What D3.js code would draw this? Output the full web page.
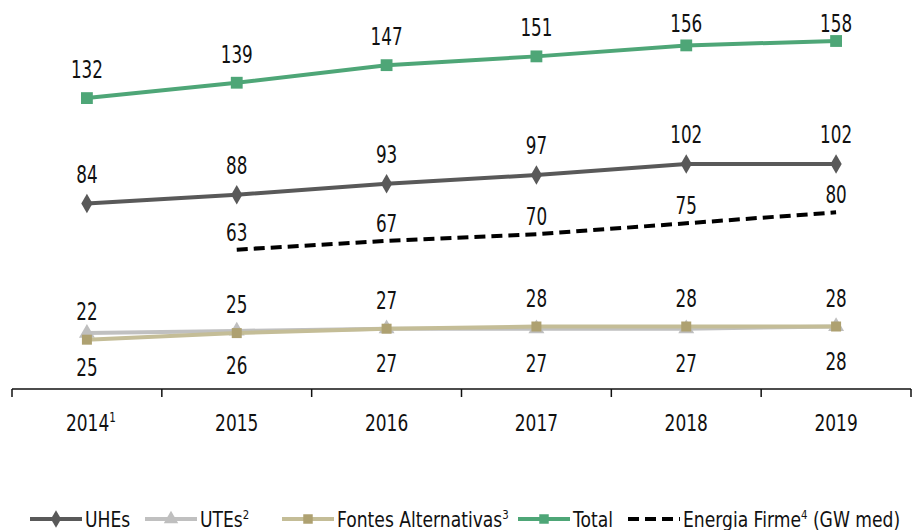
<!DOCTYPE html>
<html>
<head>
<meta charset="utf-8">
<script src="https://cdn.jsdelivr.net/npm/d3@7"></script>
<style>
  body { margin: 0; background: #fff; }
  svg text { font-family: "DejaVu Sans", sans-serif; fill: #111; }
</style>
</head>
<body>
<div id="chart"></div>
<script>
// Data
const years = ['2014', '2015', '2016', '2017', '2018', '2019'];
const yearNotes = ['1', '', '', '', '', ''];
const uhes = [84, 88, 93, 97, 102, 102];
const utes = [25, 26, 27, 27, 27, 28];
const fontes = [22, 25, 27, 28, 28, 28];
const total = [132, 139, 147, 151, 156, 158];
const energiaYears = ['2015', '2016', '2017', '2018', '2019'];
const energia = [63, 67, 70, 75, 80];

const W = 919, H = 530;
const SX = 0.7; // no narrow font installed, squeeze glyphs horizontally

const svg = d3.select('#chart')
  .append('svg')
  .attr('width', W)
  .attr('height', H);

const x = d3.scaleBand().domain(years).range([12, 911]);
const cx = (d) => x(d) + x.bandwidth() / 2;
const y = d3.scaleLinear().domain([0, 158]).range([388, 41]);

const at = (px, py, sx) => `translate(${px},${py}) scale(${sx || SX},1)`;

// x axis
const axis = svg.append('g')
  .attr('transform', 'translate(0,389)');
axis.append('line')
  .attr('x1', 12).attr('x2', 911)
  .attr('stroke', '#111').attr('stroke-width', 1.5);
axis.selectAll('line.tick')
  .data(d3.range(years.length + 1))
  .enter()
  .append('line')
  .attr('class', 'tick')
  .attr('x1', (i) => 12 + i * x.bandwidth())
  .attr('x2', (i) => 12 + i * x.bandwidth())
  .attr('y1', 0).attr('y2', 8)
  .attr('stroke', '#111').attr('stroke-width', 1.5);

const tl = axis.selectAll('text')
  .data(years)
  .enter()
  .append('text')
  .attr('transform', (d, i) => at(cx(d) + (yearNotes[i] ? 4 : 0), 42, 0.74))
  .attr('text-anchor', 'middle')
  .attr('font-size', 23);
tl.append('tspan').text((d) => d);
tl.append('tspan')
  .attr('font-size', 14)
  .attr('dy', -9)
  .text((d, i) => yearNotes[i]);

const series = [
  { name: 'UHEs', values: uhes, color: '#595959', marker: 'diamond', mcolor: '#595959', label: -21 },
  { name: 'UTEs', values: utes, color: '#C0C0C0', marker: 'triangle', mcolor: '#BFBFBF', label: 43 },
  { name: 'Fontes', values: fontes, color: '#C4BD97', marker: 'square', mcolor: '#AEA171', label: -20, msize: 100 },
  { name: 'Total', values: total, color: '#4EA677', marker: 'square', mcolor: '#4EA677', label: -20, msize: 140 },
];

const line = d3.line().x((d) => cx(d.year)).y((d) => y(d.value));

const symbolType = {
  diamond: d3.symbolDiamond,
  triangle: d3.symbolTriangle,
  square: d3.symbolSquare,
};

series.forEach((s) => {
  const pts = years.map((yr, i) => ({ year: yr, value: s.values[i] }));
  const g = svg.append('g');
  g.append('path')
    .datum(pts)
    .attr('d', line)
    .attr('fill', 'none')
    .attr('stroke', s.color)
    .attr('stroke-width', 4);
  g.selectAll('path.m')
    .data(pts)
    .enter()
    .append('path')
    .attr('class', 'm')
    .attr('d', d3.symbol().type(symbolType[s.marker]).size(s.msize || 110))
    .attr('transform', (d) => `translate(${cx(d.year)},${y(d.value)})`)
    .attr('fill', s.mcolor);
});

// Energia firme dashed
const ePts = energiaYears.map((yr, i) => ({ year: yr, value: energia[i] }));
svg.append('path')
  .datum(ePts)
  .attr('d', line)
  .attr('fill', 'none')
  .attr('stroke', '#000')
  .attr('stroke-width', 4)
  .attr('stroke-dasharray', '11,6');

// Data labels (kept inside the plot area at the top, like the original)
series.forEach((s) => {
  svg.append('g')
    .selectAll('text')
    .data(years)
    .enter()
    .append('text')
    .attr('transform', (d, i) => at(cx(d), Math.max(y(s.values[i]) + s.label, 32)))
    .attr('text-anchor', 'middle')
    .attr('font-size', 24)
    .text((d, i) => s.values[i]);
});
svg.append('g')
  .selectAll('text')
  .data(ePts)
  .enter()
  .append('text')
  .attr('transform', (d) => at(cx(d.year), y(d.value) - 9))
  .attr('text-anchor', 'middle')
  .attr('font-size', 24)
  .text((d) => d.value);

// Legend
const legendItems = [
  { x: 30, text: 'UHEs', sup: '', color: '#595959', marker: 'diamond', mcolor: '#595959' },
  { x: 145, text: 'UTEs', sup: '2', color: '#C0C0C0', marker: 'triangle', mcolor: '#BFBFBF' },
  { x: 282, text: 'Fontes Alternativas', sup: '3', color: '#C4BD97', marker: 'square', mcolor: '#AEA171' },
  { x: 518, text: 'Total', sup: '', color: '#4EA677', marker: 'square', mcolor: '#4EA677' },
  { x: 628, text: 'Energia Firme', sup: '4', tail: ' (GW med)', color: '#000', dash: true },
];

const lg = svg.append('g').attr('transform', 'translate(0,519)');
legendItems.forEach((it) => {
  lg.append('line')
    .attr('x1', it.x).attr('x2', it.x + 52)
    .attr('stroke', it.color)
    .attr('stroke-width', 4)
    .attr('stroke-dasharray', it.dash ? '11,6' : null);
  if (it.marker) {
    lg.append('path')
      .attr('d', d3.symbol().type(symbolType[it.marker]).size(90))
      .attr('transform', `translate(${it.x + 26},0)`)
      .attr('fill', it.mcolor);
  }
  const t = lg.append('text')
    .attr('transform', at(it.x + 55, 8, 0.78))
    .attr('font-size', 22);
  t.append('tspan').text(it.text);
  if (it.sup) {
    t.append('tspan').attr('font-size', 13).attr('dy', -8).text(it.sup);
  }
  if (it.tail) {
    t.append('tspan').attr('dy', it.sup ? 8 : 0).text(it.tail);
  }
});
</script>
</body>
</html>
